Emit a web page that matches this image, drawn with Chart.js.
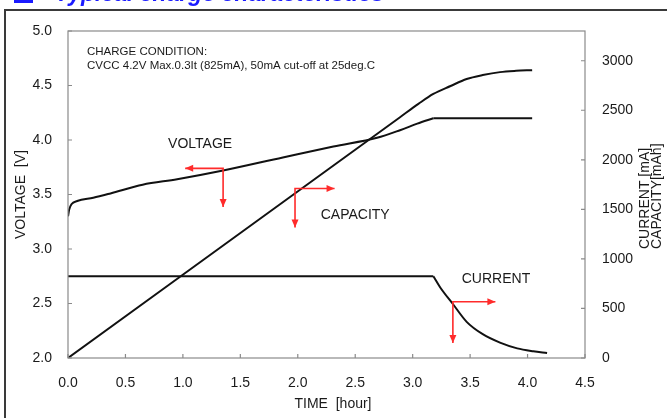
<!DOCTYPE html>
<html>
<head>
<meta charset="utf-8">
<title>Typical charge characteristics</title>
<script src="https://cdn.jsdelivr.net/npm/chart.js@4.4.1/dist/chart.umd.min.js"></script>
<style>
  html, body { margin: 0; padding: 0; background: #fff; }
  #wrap { position: relative; width: 667px; height: 418px; }
</style>
</head>
<body>
<div id="wrap"><canvas id="chg"></canvas></div>
<script>
// values (time in hours)
var voltageTime = [0, 0.01, 0.03, 0.08, 0.22, 0.37, 0.65, 0.95, 1.35, 1.87, 2.31, 2.69, 2.89, 3.04, 3.18, 3.5, 4.04];
var voltage     = [3.30, 3.36, 3.41, 3.44, 3.47, 3.51, 3.59, 3.64, 3.72, 3.84, 3.94, 4.02, 4.09, 4.15, 4.20, 4.20, 4.20];

var capacityTime = [0, 2.89, 3.05, 3.18, 3.33, 3.47, 3.61, 3.76, 3.90, 4.04];
var capacity     = [0, 2430, 2565, 2665, 2745, 2815, 2855, 2885, 2898, 2905];

var currentTime = [0, 3.18, 3.24, 3.35, 3.47, 3.61, 3.76, 3.91, 4.05, 4.17];
var current     = [825, 825, 712, 545, 365, 240, 155, 97, 68, 51];

var timeTicks    = [0, 0.5, 1, 1.5, 2, 2.5, 3, 3.5, 4, 4.5];
var voltageTicks = [2, 2.5, 3, 3.5, 4, 4.5, 5];
var rightTicks   = [0, 500, 1000, 1500, 2000, 2500, 3000];

var seriesNames = ["VOLTAGE", "CAPACITY", "CURRENT"];
var conditionText = ["CHARGE CONDITION:", "CVCC 4.2V Max.0.3It (825mA), 50mA cut-off at 25deg.C"];

// time where constant current switches to constant voltage
var cvStart = 3.18;

// red pointer arrows: corner point, arrow along x to tipT, arrow down to tipV
var arrowMarks = [
    {axis: "yV", t: 1.35, v: 3.74, tipT: 1.02, tipV: 3.385},
    {axis: "yC", t: 1.976, v: 1711, tipT: 2.32, tipV: 1316},
    {axis: "yC", t: 3.35, v: 567, tipT: 3.72, tipV: 152}
];
var nameSpots = [
    {axis: "yV", t: 1.15, v: 3.96},
    {axis: "yC", t: 2.50, v: 1438},
    {axis: "yC", t: 3.725, v: 800}
];

var FONT = "'Liberation Sans', Arial, sans-serif";

// points of one curve, split at the CC/CV switch so the knee stays sharp
function pairs(xs, ys, part) {
    var out = [];
    xs.forEach(function (x, i) {
        if (part === "cc" && x > cvStart) return;
        if (part === "cv" && x < cvStart) return;
        out.push({x: x, y: ys[i]});
    });
    return out;
}

function arrowHead(ctx, x, y, dir) {
    ctx.beginPath();
    if (dir === "left") { ctx.moveTo(x, y); ctx.lineTo(x + 8, y - 3.5); ctx.lineTo(x + 8, y + 3.5); }
    else if (dir === "right") { ctx.moveTo(x, y); ctx.lineTo(x - 8, y - 3.5); ctx.lineTo(x - 8, y + 3.5); }
    else { ctx.moveTo(x, y); ctx.lineTo(x - 3.5, y - 8); ctx.lineTo(x + 3.5, y - 8); }
    ctx.closePath();
    ctx.fill();
}

var decorPlugin = {
    id: "decor",
    beforeDraw: function (chart) {
        var ctx = chart.ctx;
        ctx.save();
        ctx.fillStyle = "#fff";
        ctx.fillRect(0, 0, chart.width, chart.height);
        // cut-off heading above the frame
        ctx.fillStyle = "#1a1aff";
        ctx.fillRect(14, -12, 19, 15);
        ctx.font = "italic bold 23px " + FONT;
        ctx.textBaseline = "alphabetic";
        ctx.fillText("Typical charge characteristics", 55, 1);
        // outer frame
        ctx.strokeStyle = "#3a3a3a";
        ctx.lineWidth = 2;
        ctx.strokeRect(5, 10, 720, 440);
        ctx.restore();
    },
    afterDatasetsDraw: function (chart) {
        var ctx = chart.ctx, a = chart.chartArea, sx = chart.scales.x;
        ctx.save();
        // plot box
        ctx.strokeStyle = "#8a8a8a";
        ctx.lineWidth = 1.2;
        ctx.strokeRect(a.left, a.top, a.right - a.left, a.bottom - a.top);
        // inner tick marks
        ctx.beginPath();
        timeTicks.forEach(function (t) {
            var px = sx.getPixelForValue(t);
            ctx.moveTo(px, a.bottom); ctx.lineTo(px, a.bottom - 4);
        });
        voltageTicks.forEach(function (v) {
            var py = chart.scales.yV.getPixelForValue(v);
            ctx.moveTo(a.left, py); ctx.lineTo(a.left + 4, py);
        });
        rightTicks.forEach(function (v) {
            var py = chart.scales.yC.getPixelForValue(v);
            ctx.moveTo(a.right, py); ctx.lineTo(a.right - 4, py);
        });
        ctx.stroke();

        // red arrows
        ctx.strokeStyle = "#ff2b2b";
        ctx.fillStyle = "#ff2b2b";
        ctx.lineWidth = 1.6;
        arrowMarks.forEach(function (m) {
            var ys = chart.scales[m.axis];
            var cx = sx.getPixelForValue(m.t), cy = ys.getPixelForValue(m.v);
            var hx = sx.getPixelForValue(m.tipT), vy = ys.getPixelForValue(m.tipV);
            ctx.beginPath();
            ctx.moveTo(hx, cy); ctx.lineTo(cx, cy); ctx.lineTo(cx, vy);
            ctx.stroke();
            arrowHead(ctx, hx, cy, hx < cx ? "left" : "right");
            arrowHead(ctx, cx, vy, "down");
        });

        // series names
        ctx.fillStyle = "#1a1a1a";
        ctx.font = "14px " + FONT;
        ctx.textAlign = "center";
        ctx.textBaseline = "middle";
        nameSpots.forEach(function (p, i) {
            ctx.fillText(seriesNames[i], sx.getPixelForValue(p.t), chart.scales[p.axis].getPixelForValue(p.v));
        });

        // charge condition note
        ctx.font = "11.5px " + FONT;
        ctx.textAlign = "left";
        ctx.fillText(conditionText[0], a.left + 19, a.top + 21);
        ctx.fillText(conditionText[1], a.left + 19, a.top + 35);

        // axis titles
        ctx.font = "14px " + FONT;
        ctx.textAlign = "center";
        ctx.fillText("TIME  [hour]", 333, 404);
        ctx.save();
        ctx.translate(21, (a.top + a.bottom) / 2);
        ctx.rotate(-Math.PI / 2);
        ctx.fillText("VOLTAGE  [V]", 0, 0);
        ctx.restore();
        ctx.textAlign = "left";
        ctx.save();
        ctx.translate(645, 249);
        ctx.rotate(-Math.PI / 2);
        ctx.fillText("CURRENT [mA]", 0, 0);
        ctx.fillText("CAPACITY[mAh]", 0, 12);
        ctx.restore();
        ctx.restore();
    }
};

function fixTicks(list) {
    return function (scale) {
        scale.ticks = list.map(function (v) { return {value: v}; });
    };
}

function curve(label, data, axis) {
    return {
        label: label,
        data: data,
        yAxisID: axis,
        borderColor: "#111",
        borderWidth: 2,
        pointRadius: 0,
        fill: false,
        cubicInterpolationMode: "monotone"
    };
}

window.addEventListener("load", function () {
    var ctx = document.getElementById("chg").getContext("2d");
    new Chart(ctx, {
        type: "line",
        data: {
            datasets: [
                curve("Voltage", pairs(voltageTime, voltage, "cc"), "yV"),
                curve("Voltage CV", pairs(voltageTime, voltage, "cv"), "yV"),
                curve("Capacity", pairs(capacityTime, capacity), "yC"),
                curve("Current", pairs(currentTime, current, "cc"), "yC"),
                curve("Current CV", pairs(currentTime, current, "cv"), "yC")
            ]
        },
        options: {
            responsive: true,
            maintainAspectRatio: false,
            animation: false,
            layout: { padding: { top: 31, left: 0, right: 0, bottom: 0 } },
            plugins: {
                legend: { display: false },
                tooltip: { enabled: false }
            },
            scales: {
                x: {
                    type: "linear",
                    position: "bottom",
                    min: 0, max: 4.5,
                    afterBuildTicks: fixTicks(timeTicks),
                    afterFit: function (s) { s.height = 60; },
                    grid: { display: false },
                    border: { display: false },
                    ticks: {
                        padding: 9,
                        color: "#1a1a1a",
                        font: { family: FONT, size: 14 },
                        maxRotation: 0,
                        callback: function (v) { return v.toFixed(1); }
                    }
                },
                yV: {
                    type: "linear",
                    position: "left",
                    min: 2, max: 5,
                    afterBuildTicks: fixTicks(voltageTicks),
                    afterFit: function (s) { s.width = 68; },
                    grid: { display: false },
                    border: { display: false },
                    ticks: {
                        padding: 8,
                        color: "#1a1a1a",
                        font: { family: FONT, size: 14 },
                        callback: function (v) { return v.toFixed(1); }
                    }
                },
                yC: {
                    type: "linear",
                    position: "right",
                    min: 0, max: 3300,
                    afterBuildTicks: fixTicks(rightTicks),
                    afterFit: function (s) { s.width = 82; },
                    grid: { display: false },
                    border: { display: false },
                    ticks: {
                        padding: 9,
                        color: "#1a1a1a",
                        font: { family: FONT, size: 14 },
                        callback: function (v) { return String(v); }
                    }
                }
            }
        },
        plugins: [decorPlugin]
    });
});
</script>
</body>
</html>
